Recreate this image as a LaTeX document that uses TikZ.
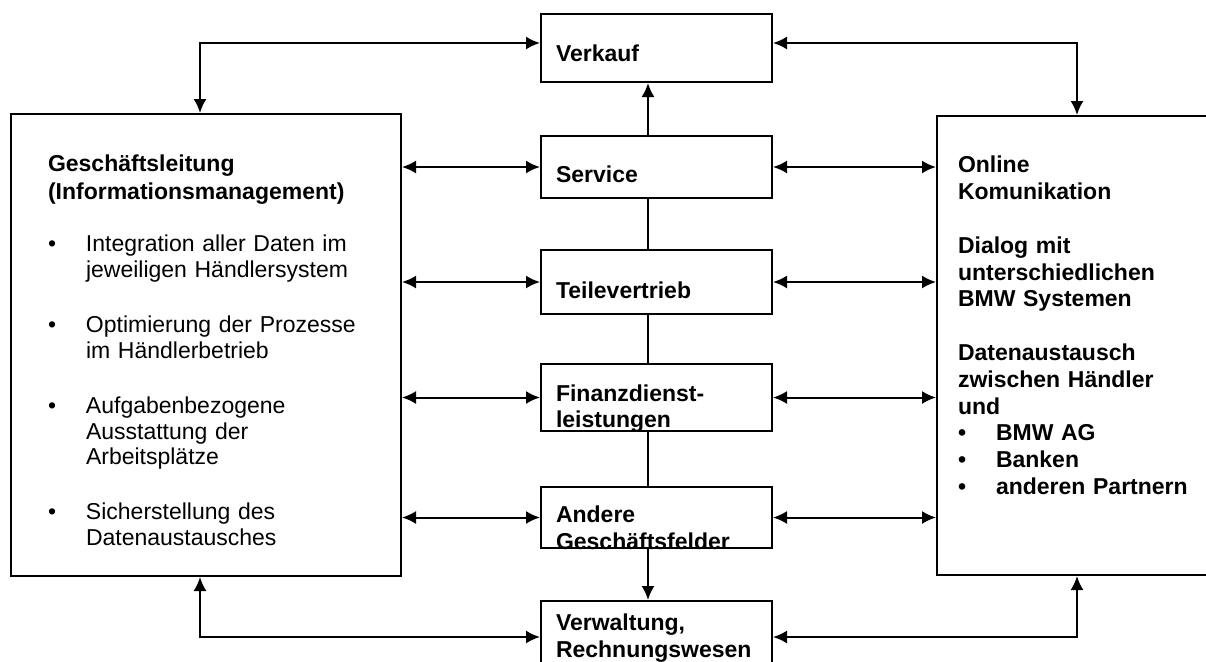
\documentclass[tikz,border=0pt]{standalone}
\usepackage{fontspec}
\setmainfont{Liberation Sans}
\usetikzlibrary{arrows.meta,positioning}

\newcommand{\listbul}{\makebox[19pt][l]{\textbullet}}
\newcommand{\listgap}{\hspace*{19pt}}

\begin{document}
\begin{tikzpicture}[x=0.5pt, y=-0.5pt, >={Latex[length=7pt,width=6.5pt]},
panel/.style = {draw, line width=1pt, anchor=north west, inner xsep=10.5pt, inner ysep=0pt,
                align=left, font=\fontsize{11.5}{13.4}\selectfont\bfseries},
field/.style = {draw, line width=1pt, anchor=north west, text width=100.5pt, inner xsep=7.5pt,
                inner ysep=0pt, align=left, font=\fontsize{11.5}{13.4}\selectfont\bfseries},
line/.style = {draw, line width=1pt, ->}]

\useasboundingbox (0,0) rectangle (1206,661);
\clip (0,0) rectangle (1206,661);
\fill[white] (0,0) rectangle (1206,661);

% left and right panels
\node[panel, inner xsep=18.5pt, text width=158pt, text height=28.5pt, text depth=202.5pt,
      font=\fontsize{11.5}{12.9}\selectfont] (lead) at (10,113)
{\textbf{Geschäftsleitung}\\[1.1pt]
 \textbf{(Informationsmanagement)}\\[13.4pt]
 \listbul Integration aller Daten im\\
 \listgap jeweiligen Händlersystem\\[14.6pt]
 \listbul Optimierung der Prozesse\\
 \listgap im Händlerbetrieb\\[14.6pt]
 \listbul Aufgabenbezogene\\
 \listgap Ausstattung der\\
 \listgap Arbeitsplätze\\[14.6pt]
 \listbul Sicherstellung des\\
 \listgap Datenaustausches};

\node[panel, text width=129pt, text height=28.4pt, text depth=201.1pt] (online) at (936,115)
{Online\\
 Komunikation\\[13.4pt]
 Dialog mit\\
 unterschiedlichen\\
 BMW Systemen\\[13.4pt]
 Datenaustausch\\
 zwischen Händler\\
 und\\
 \listbul BMW AG\\
 \listbul Banken\\
 \listbul anderen Partnern};

% middle column
\node[field, text height=23.5pt, text depth=10.5pt] (verkauf) at (540,13) {Verkauf};
\node[field, text height=23.3pt, text depth=7.7pt] (service) at (540,135) {Service};
\node[field, text height=24pt, text depth=8pt] (teile) at (540,249) {Teilevertrieb};
\node[field, text height=18.5pt, text depth=15pt] (finanz) at (540,363) {Finanzdienst-\\leistungen};
\node[field, text height=17.8pt, text depth=12.7pt] (andere) at (540,486) {Andere\\Geschäftsfelder};
\node[field, text height=14.8pt, text depth=21.2pt] (verwaltung) at (540,600) {Verwaltung,\\Rechnungswesen};

\coordinate (tl) at (200,43);
\coordinate (tr) at (1077,43);
\coordinate (spine) at (648,0);

\begin{scope}[every path/.style=line]
% outer loops
\path[<->] (lead.north -| tl) |- (verkauf.west |- tl);
\path[<->] (verkauf.east |- tr) -| (online.north -| tr);
\path[<->] (lead.south -| tl) |- (verwaltung.west);
\path[<->] (verwaltung.east) -| (online.south -| tr);

% spine
\path (service.north -| spine) -- (verkauf.south -| spine);
\path[-] (service.south -| spine) -- (teile.north -| spine);
\path[-] (teile.south -| spine) -- (finanz.north -| spine);
\path[-] (finanz.south -| spine) -- (andere.north -| spine);
\path (andere.south -| spine) -- (verwaltung.north -| spine);

% sideways
\foreach \n in {service,teile,finanz,andere} {
  \path[<->] (lead.east |- \n.west) -- (\n.west);
  \path[<->] (\n.east) -- (online.west |- \n.east);
}
\end{scope}
\end{tikzpicture}
\end{document}
